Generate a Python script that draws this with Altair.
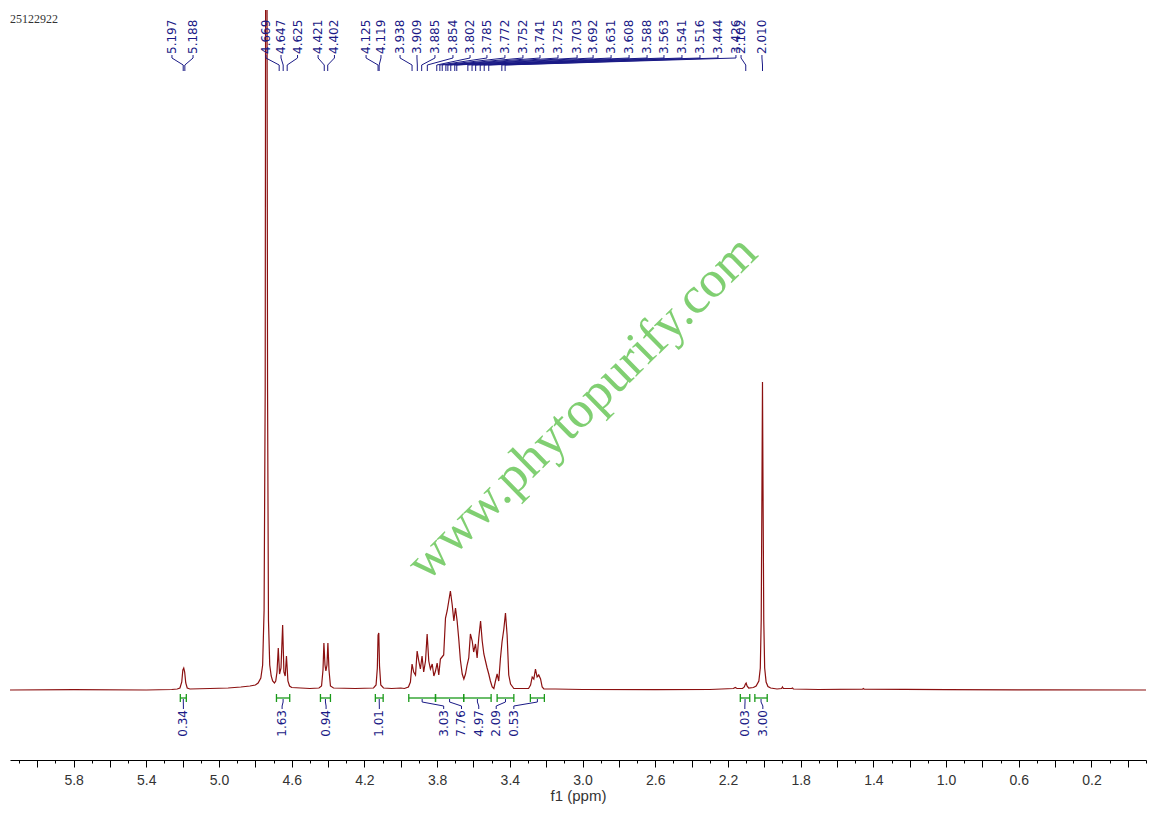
import altair as alt
import pandas as pd

# ---------------- data ----------------
# spectrum vertices (ppm, intensity in arbitrary units)
spec_ppm = [6.15, 5.80, 5.40, 5.26, 5.23, 5.215, 5.205, 5.199, 5.194, 5.189, 5.183, 5.175, 5.16,
            5.05, 4.95, 4.88, 4.83, 4.80, 4.785, 4.770, 4.760, 4.752, 4.746, 4.742, 4.738, 4.733,
            4.728, 4.721, 4.713, 4.705, 4.695, 4.688, 4.681, 4.674, 4.667, 4.659, 4.650, 4.643,
            4.636, 4.629, 4.621, 4.612, 4.60, 4.50, 4.45, 4.436, 4.428, 4.423, 4.417, 4.412, 4.406,
            4.401, 4.395, 4.387, 4.37, 4.25, 4.15, 4.136, 4.129, 4.125, 4.121, 4.117, 4.110, 4.095,
            4.05, 4.00,
            3.980, 3.958, 3.947, 3.938, 3.929, 3.919, 3.910, 3.901, 3.892, 3.883, 3.874, 3.864,
            3.855, 3.846, 3.837, 3.827, 3.818, 3.809, 3.800, 3.791, 3.782, 3.773, 3.764, 3.754,
            3.745, 3.736, 3.727, 3.717, 3.708, 3.699, 3.690, 3.681, 3.672, 3.662, 3.653, 3.644,
            3.635, 3.626, 3.617, 3.607, 3.599, 3.589, 3.580, 3.571, 3.561, 3.552, 3.543, 3.534,
            3.525, 3.516, 3.507, 3.497, 3.488, 3.479, 3.470, 3.461, 3.452, 3.443, 3.433, 3.424,
            3.415, 3.406, 3.396, 3.378, 3.297, 3.286, 3.277, 3.268, 3.259, 3.250, 3.241, 3.231,
            3.222, 3.213,
            3.15, 3.00, 2.60, 2.30, 2.17, 2.16, 2.15, 2.12, 2.110, 2.104, 2.100, 2.095, 2.086,
            2.06, 2.045, 2.030, 2.022, 2.017, 2.013, 2.010, 2.007, 2.003, 1.998, 1.990, 1.980,
            1.965, 1.93, 1.905, 1.900, 1.895, 1.85, 1.845, 1.84, 1.70, 1.46, 1.455, 1.45, 1.00,
            0.50, -0.10]
spec_int = [0, 0.3, 0, 0.5, 1, 2, 8, 20, 22, 18, 7, 2, 1,
            1.5, 2, 3, 4, 5, 7, 12, 25, 80, 300, 1000, 1000, 300,
            70, 25, 14, 9, 7, 9, 18, 42, 16, 22, 65, 18,
            14, 34, 9, 4, 2.5, 1.5, 2, 4, 20, 47, 25, 19, 25,
            47, 20, 4, 2, 1.5, 2, 5, 22, 55, 57, 24, 5, 2,
            1.5, 2,
            1.5, 3, 8, 26, 18, 15, 39, 29, 21, 34, 18, 29,
            56, 29, 21, 26, 14, 19, 27, 15, 31, 33, 35, 72,
            79, 89, 99, 85, 69, 82, 69, 51, 30, 16, 11, 16,
            25, 32, 56, 49, 38, 46, 32, 52, 69, 49, 36, 29,
            22, 16, 9, 3, 1.5, 9, 16, 9, 31, 48, 61, 77,
            55, 15, 6, 1.5, 1.5, 5, 13, 11, 21, 13, 15, 11,
            3, 1,
            1, 0.5, 0.3, 0.5, 1.5, 2.5, 1.5, 1.5, 3, 6, 7, 4, 2,
            2.5, 4, 9, 22, 70, 200, 308, 200, 70, 22, 8, 3.5,
            2, 1, 1.5, 3, 1.5, 1.5, 2, 1, 0.5, 0.8, 1.5, 0.8, 0.3,
            0.2, 0]

# peak picking labels (text) and where each label sits along the ppm axis
peak_labels = ["5.197", "5.188", "4.669", "4.647", "4.625", "4.421", "4.402", "4.125", "4.119",
               "3.938", "3.909", "3.885", "3.854", "3.802", "3.785", "3.772", "3.752", "3.741",
               "3.725", "3.703", "3.692", "3.631", "3.608", "3.588", "3.563", "3.541", "3.516",
               "3.444", "3.426", "2.102", "2.010"]
peak_label_pos = [5.259, 5.143, 4.742, 4.659, 4.568, 4.455, 4.365, 4.191, 4.109,
                  4.004, 3.911, 3.812, 3.713, 3.619, 3.526, 3.427, 3.328, 3.234,
                  3.135, 3.030, 2.942, 2.843, 2.744, 2.645, 2.552, 2.453, 2.354,
                  2.255, 2.156, 2.128, 2.013]

# integrals
int_labels = ["0.34", "1.63", "0.94", "1.01", "3.03", "7.76", "4.97", "2.09", "0.53", "0.03", "3.00"]
int_start = [5.213, 4.684, 4.442, 4.140, 3.956, 3.809, 3.654, 3.470, 3.287, 2.132, 2.052]
int_end = [5.180, 4.611, 4.387, 4.097, 3.809, 3.654, 3.503, 3.378, 3.210, 2.080, 1.984]
int_label_pos = [5.196, 4.653, 4.411, 4.118, 3.764, 3.666, 3.571, 3.475, 3.378, 2.107, 2.008]

# axis tick labels
axis_labels = ["5.8", "5.4", "5.0", "4.6", "4.2", "3.8", "3.4", "3.0", "2.6", "2.2",
               "1.8", "1.4", "1.0", "0.6", "0.2"]

sample_id = "25122922"
watermark = "www.phytopurify.com"

# ---------------- styling ----------------
LINE_COLOR = "#8b1010"
NAVY = "#1a1a86"
GREEN = "#1a9a1a"
X_DOMAIN = [6.15, -0.10]
Y_DOMAIN = [-70, 680]

xs = alt.Scale(domain=X_DOMAIN, zero=False, nice=False)
ys = alt.Scale(domain=Y_DOMAIN, zero=False, nice=False)

tick_vals = [round(6.1 - 0.1 * i, 1) for i in range(63)]
label_list = ",".join("'" + s + "'" for s in axis_labels)
label_expr = ("indexof([" + label_list + "], format(datum.value, '.1f')) >= 0 ? "
              "format(datum.value, '.1f') : ''")

x_axis = alt.Axis(
    values=tick_vals,
    tickSize={"condition": {"test": "round(datum.value*10) % 2 === 0", "value": 7}, "value": 3},
    tickColor="#000", tickWidth=1,
    domainColor="#000", domainWidth=1,
    labelExpr=label_expr, labelFont="Liberation Sans", labelFontSize=14,
    labelColor="#333333", labelPadding=6, labelOverlap=False, labelFlush=False,
    title="f1 (ppm)", titleFont="Liberation Sans", titleFontSize=15,
    titleFontWeight="normal", titleColor="#333333", titlePadding=1,
    grid=False, orient="bottom",
)


def X(field):
    return alt.X(field, scale=xs, axis=x_axis, title="f1 (ppm)")


spec_df = pd.DataFrame({"ppm": spec_ppm, "v": spec_int})
line = alt.Chart(spec_df).mark_line(color=LINE_COLOR, strokeWidth=1.2, clip=True).encode(
    x=X("ppm:Q"),
    y=alt.Y("v:Q", scale=ys, axis=None),
)

# peak labels at top
top_df = pd.DataFrame({
    "txt": peak_labels,
    "lx": peak_label_pos,
    "px": [float(s) for s in peak_labels],
})
top_base = alt.Chart(top_df)
top_text = top_base.mark_text(angle=270, align="left", baseline="middle", font="DejaVu Sans",
                              fontSize=12, color=NAVY).encode(
    x=X("lx:Q"), y=alt.datum(636), text="txt:N")
top_r1 = top_base.mark_rule(color=NAVY, strokeWidth=1).encode(
    x=X("lx:Q"), y=alt.datum(635), y2=alt.datum(632))
top_r2 = top_base.mark_rule(color=NAVY, strokeWidth=1).encode(
    x=X("lx:Q"), x2="px:Q", y=alt.datum(632), y2=alt.datum(625))
top_r3 = top_base.mark_rule(color=NAVY, strokeWidth=1).encode(
    x=X("px:Q"), y=alt.datum(625), y2=alt.datum(619))

# integrals below baseline
int_df = pd.DataFrame({
    "txt": int_labels, "s": int_start, "e": int_end, "lx": int_label_pos,
})
int_df["c"] = (int_df["s"] + int_df["e"]) / 2
ib = alt.Chart(int_df)
int_bar = ib.mark_rule(color=GREEN, strokeWidth=1.3).encode(
    x=X("s:Q"), x2="e:Q", y=alt.datum(-8))
int_cap1 = ib.mark_rule(color=GREEN, strokeWidth=1.3).encode(
    x=X("s:Q"), y=alt.datum(-4), y2=alt.datum(-12))
int_cap2 = ib.mark_rule(color=GREEN, strokeWidth=1.3).encode(
    x=X("e:Q"), y=alt.datum(-4), y2=alt.datum(-12))
int_r1 = ib.mark_rule(color=NAVY, strokeWidth=1).encode(
    x=X("c:Q"), y=alt.datum(-9), y2=alt.datum(-12))
int_r2 = ib.mark_rule(color=NAVY, strokeWidth=1).encode(
    x=X("c:Q"), x2="lx:Q", y=alt.datum(-12), y2=alt.datum(-16))
int_r3 = ib.mark_rule(color=NAVY, strokeWidth=1).encode(
    x=X("lx:Q"), y=alt.datum(-16), y2=alt.datum(-19))
int_text = ib.mark_text(angle=270, align="right", baseline="middle", font="DejaVu Sans",
                        fontSize=12, color=NAVY).encode(
    x=X("lx:Q"), y=alt.datum(-20), text="txt:N")

# annotations
ann_df = pd.DataFrame({"sid": [sample_id], "wm": [watermark]})
sid_text = alt.Chart(ann_df).mark_text(align="left", baseline="alphabetic", font="Liberation Serif",
                                       fontSize=12, color="#333333").encode(
    x=alt.value(0), y=alt.value(13), text="sid:N")
wm_text = alt.Chart(ann_df).mark_text(align="center", baseline="alphabetic", font="Liberation Serif",
                                      fontSize=52, color="#80cf72", angle=315.5).encode(
    x=alt.value(583), y=alt.value(409), text="wm:N")

chart = alt.layer(
    line, wm_text, sid_text,
    top_r1, top_r2, top_r3, top_text,
    int_bar, int_cap1, int_cap2, int_r1, int_r2, int_r3, int_text,
).properties(
    width=1136, height=750,
    padding={"left": 2, "top": 2, "right": 2, "bottom": 2},
    background="white",
).configure_view(stroke=None)

chart.save("out.html", embed_options={"renderer": "svg", "actions": False})
